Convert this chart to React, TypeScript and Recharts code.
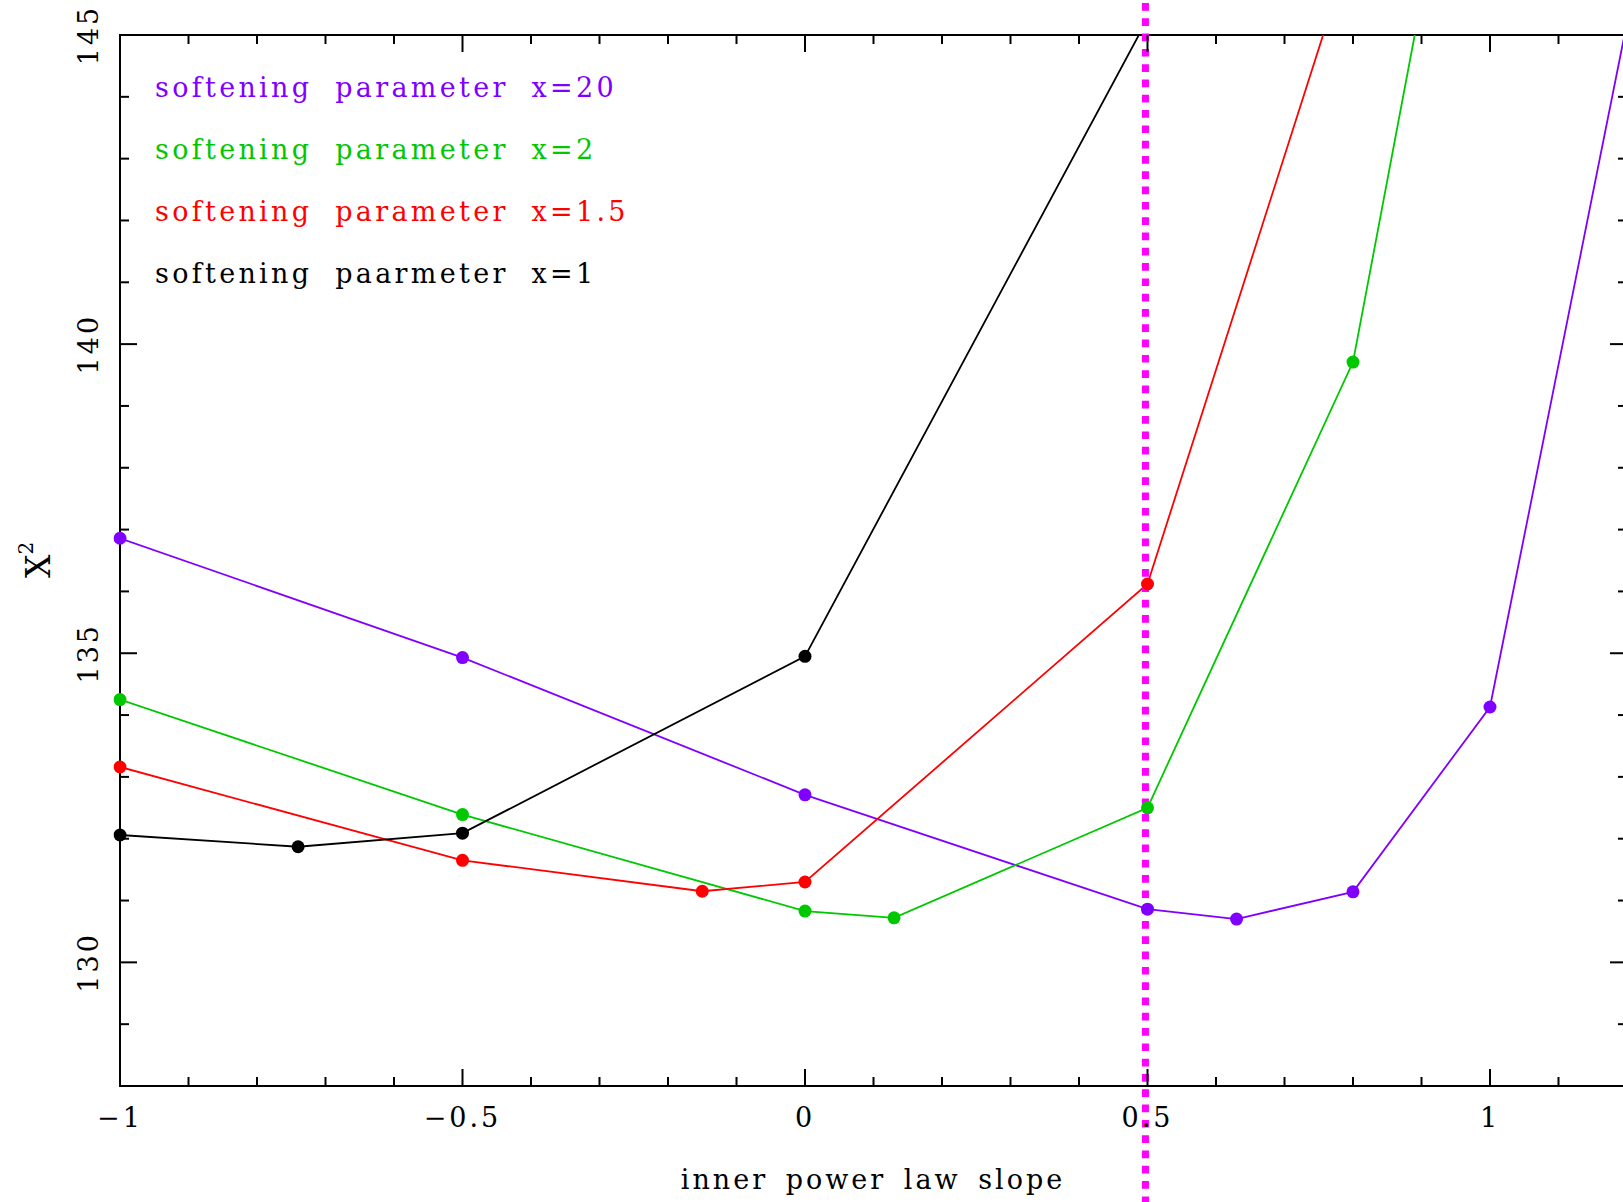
import { LineChart, Line, XAxis, YAxis, ReferenceArea, ReferenceLine } from "recharts";

type Pt = { x: number; y: number };

// chi^2 vs inner power law slope, one array per softening parameter
const soft20: Pt[] = [
  { x: -1, y: 136.86 },
  { x: -0.5, y: 134.93 },
  { x: 0, y: 132.71 },
  { x: 0.5, y: 130.86 },
  { x: 0.63, y: 130.7 },
  { x: 0.8, y: 131.14 },
  { x: 1, y: 134.13 },
  { x: 1.2, y: 145.2 },
];
const soft2: Pt[] = [
  { x: -1, y: 134.25 },
  { x: -0.5, y: 132.39 },
  { x: 0, y: 130.83 },
  { x: 0.13, y: 130.72 },
  { x: 0.5, y: 132.5 },
  { x: 0.8, y: 139.71 },
  { x: 0.9, y: 145.58 },
];
const soft15: Pt[] = [
  { x: -1, y: 133.16 },
  { x: -0.5, y: 131.65 },
  { x: -0.15, y: 131.15 },
  { x: 0, y: 131.3 },
  { x: 0.5, y: 136.12 },
  { x: 0.8, y: 146.51 },
];
const soft1: Pt[] = [
  { x: -1, y: 132.06 },
  { x: -0.74, y: 131.87 },
  { x: -0.5, y: 132.09 },
  { x: 0, y: 134.95 },
  { x: 0.5, y: 145.26 },
];

const X_DOMAIN = [-1, 1.2];
const Y_DOMAIN = [128, 145];
const X_TICKS = [-1, -0.9, -0.8, -0.7, -0.6, -0.5, -0.4, -0.3, -0.2, -0.1, 0, 0.1, 0.2, 0.3, 0.4, 0.5, 0.6, 0.7, 0.8, 0.9, 1, 1.1, 1.2];
const X_MAJOR = [-1, -0.5, 0, 0.5, 1];
const Y_TICKS = [128, 129, 130, 131, 132, 133, 134, 135, 136, 137, 138, 139, 140, 141, 142, 143, 144, 145];
const Y_MAJOR = [130, 135, 140, 145];
const CUT_SLOPE = 0.497;

const LEGEND = [
  { text: "softening parameter x=20", color: "#8000ff" },
  { text: "softening parameter x=2", color: "#00c800" },
  { text: "softening parameter x=1.5", color: "#ff0000" },
  { text: "softening paarmeter x=1", color: "#000000" },
];

const W = 1640;
const H = 1202;
const TOP = 35;
const RIGHT = 13;
const Y_AXIS_W = 120;
const X_AXIS_H = 116;
const PLOT_LEFT = Y_AXIS_W;
const PLOT_RIGHT = W - RIGHT;
const PLOT_TOP = TOP;
const PLOT_BOTTOM = H - X_AXIS_H;

const FONT = "'DejaVu Serif', serif";
const textStyle = { fontFamily: FONT, fontSize: 27, letterSpacing: 3, wordSpacing: 6 };
const legendStyle = { ...textStyle, letterSpacing: 3.3, wordSpacing: 11 };

const fmt = (v: number) => (v < 0 ? "\u2212" + Math.abs(v) : String(v));
const isMajor = (v: number, list: number[]) => list.some((m) => Math.abs(m - v) < 1e-6);
const inRange = (p: Pt) =>
  p.x >= X_DOMAIN[0] && p.x <= X_DOMAIN[1] && p.y >= Y_DOMAIN[0] && p.y <= Y_DOMAIN[1];

function XTick(props: any) {
  const { x, payload } = props;
  const major = isMajor(payload.value, X_MAJOR);
  const len = major ? 17 : 9;
  return (
    <g>
      <line x1={x} x2={x} y1={PLOT_BOTTOM} y2={PLOT_BOTTOM - len} stroke="#000" strokeWidth={2} />
      <line x1={x} x2={x} y1={PLOT_TOP} y2={PLOT_TOP + len} stroke="#000" strokeWidth={2} />
      {major && (
        <text x={x} y={PLOT_BOTTOM + 41} textAnchor="middle" fill="#000" style={textStyle}>
          {fmt(payload.value)}
        </text>
      )}
    </g>
  );
}

function YTick(props: any) {
  const { y, payload } = props;
  const major = isMajor(payload.value, Y_MAJOR);
  const len = major ? 17 : 9;
  return (
    <g>
      <line x1={PLOT_LEFT} x2={PLOT_LEFT + len} y1={y} y2={y} stroke="#000" strokeWidth={2} />
      <line x1={PLOT_RIGHT} x2={PLOT_RIGHT - len} y1={y} y2={y} stroke="#000" strokeWidth={2} />
      {major && (
        <text
          x={98}
          y={y}
          transform={`rotate(-90 98 ${y})`}
          textAnchor="middle"
          fill="#000"
          style={textStyle}
        >
          {payload.value}
        </text>
      )}
    </g>
  );
}

const CutLine = (p: any) => (
  <line
    x1={p.x1}
    x2={p.x2}
    y1={3}
    y2={H}
    stroke="#ff00ff"
    strokeWidth={7}
    strokeDasharray="7.7 7.6"
  />
);

const series = [
  { data: soft20, color: "#8000ff", name: "x=20" },
  { data: soft2, color: "#00c800", name: "x=2" },
  { data: soft15, color: "#ff0000", name: "x=1.5" },
  { data: soft1, color: "#000000", name: "x=1" },
];

export default function App() {
  return (
    <div
      style={{
        position: "absolute",
        left: 0,
        top: 0,
        width: 1623,
        height: H,
        overflow: "hidden",
        background: "#fff",
      }}
    >
      <LineChart width={W} height={H} margin={{ top: TOP, right: RIGHT, left: 0, bottom: 0 }}>
        <XAxis
          type="number"
          dataKey="x"
          domain={X_DOMAIN}
          allowDataOverflow
          ticks={X_TICKS}
          interval={0}
          height={X_AXIS_H}
          tickLine={false}
          axisLine={false}
          tick={<XTick />}
        />
        <YAxis
          type="number"
          dataKey="y"
          domain={Y_DOMAIN}
          allowDataOverflow
          ticks={Y_TICKS}
          interval={0}
          width={Y_AXIS_W}
          tickLine={false}
          axisLine={false}
          tick={<YTick />}
        />
        <ReferenceArea
          x1={X_DOMAIN[0]}
          x2={X_DOMAIN[1]}
          y1={Y_DOMAIN[0]}
          y2={Y_DOMAIN[1]}
          fill="none"
          fillOpacity={0}
          stroke="#000"
          strokeWidth={2}
        />
        {series.map((s) => (
          <Line
            key={s.name}
            data={s.data}
            dataKey="y"
            name={s.name}
            type="linear"
            stroke={s.color}
            strokeWidth={1.8}
            dot={false}
            activeDot={false}
            isAnimationActive={false}
          />
        ))}
        {series.map((s) => (
          <Line
            key={s.name + "-pts"}
            data={s.data.filter(inRange)}
            dataKey="y"
            name={s.name + " points"}
            type="linear"
            stroke="none"
            legendType="none"
            dot={{ r: 6.5, fill: s.color, stroke: s.color, strokeWidth: 0, clipDot: false }}
            activeDot={false}
            isAnimationActive={false}
          />
        ))}
        <ReferenceLine x={CUT_SLOPE} stroke="#ff00ff" strokeWidth={7} shape={CutLine} />
      </LineChart>
      <svg
        width={1623}
        height={H}
        style={{ position: "absolute", left: 0, top: 0, pointerEvents: "none" }}
      >
        {LEGEND.map((l, i) => (
          <text key={l.text} x={155} y={97 + i * 62} fill={l.color} style={legendStyle}>
            {l.text}
          </text>
        ))}
        <text x={873} y={1189} textAnchor="middle" fill="#000" style={textStyle}>
          inner power law slope
        </text>
        <text
          x={50}
          y={578}
          transform="rotate(-90 50 578)"
          fill="#000"
          style={{ fontFamily: FONT, fontSize: 33 }}
        >
          X<tspan fontSize={20} dy={-17}>2</tspan>
        </text>
      </svg>
    </div>
  );
}
